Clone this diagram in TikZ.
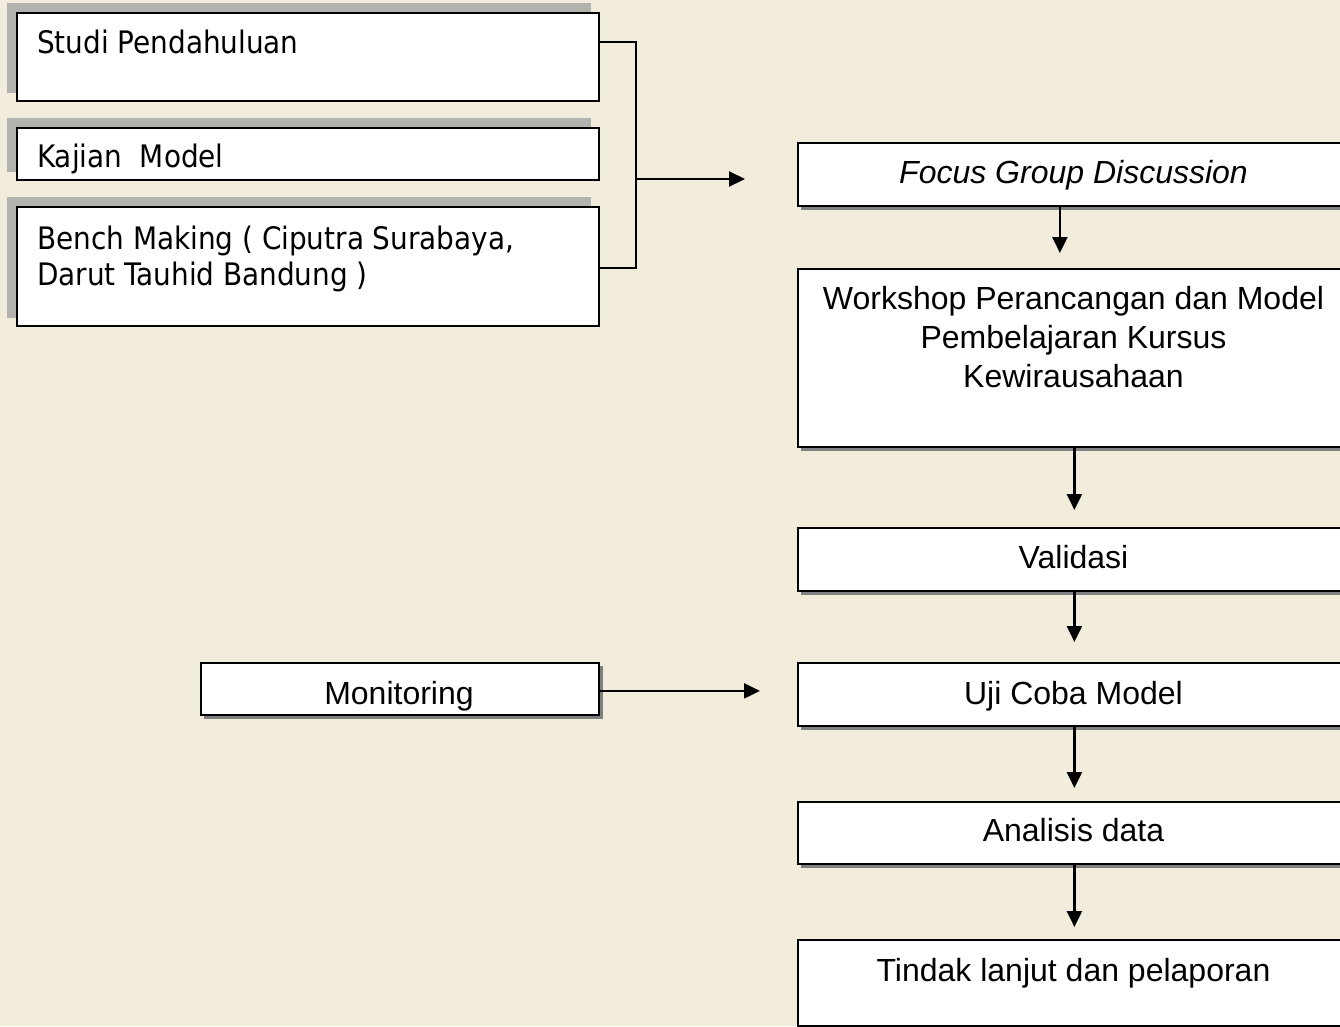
\documentclass[tikz,border=0pt]{standalone}
\usepackage{fontspec}
\setmainfont{Liberation Sans}
\newfontfamily\tahoma{DejaVu Sans Condensed}
\usetikzlibrary{arrows.meta}
\definecolor{bg}{RGB}{241,236,219}
\definecolor{shadL}{RGB}{178,178,175}
\definecolor{shadR}{RGB}{128,128,128}
\begin{document}
\begin{tikzpicture}[x=1pt,y=-1pt,
  box/.style={draw=black, line width=1.8pt, fill=white, inner sep=0pt, anchor=north west},
  conn/.style={line width=2.2pt, draw=black},
  arr/.style={conn, -{Triangle[length=16pt,width=15pt]}},
  rtxt/.style={anchor=base, inner sep=0pt, font=\fontsize{32}{39}\selectfont},
  ltxt/.style={anchor=base west, inner sep=0pt, font=\tahoma\fontsize{31}{36}\selectfont}
]
\useasboundingbox (0,0) rectangle (1340,1026);
\clip (0,0) rectangle (1340,1026);
\fill[bg] (0,0) rectangle (1340,1026);

% shadows, left group (up-left)
\fill[shadL] (7,3) rectangle (591,93);
\fill[shadL] (7,118) rectangle (591,172);
\fill[shadL] (7,197) rectangle (591,318);
% shadows, right group (down-right)
\fill[shadR] (801,146) rectangle (1354,210);
\fill[shadR] (801,272) rectangle (1354,451);
\fill[shadR] (801,531) rectangle (1354,595);
\fill[shadR] (204,666) rectangle (603,719);
\fill[shadR] (801,667) rectangle (1354,730);
\fill[shadR] (801,805) rectangle (1354,868);
\fill[shadR] (801,943) rectangle (1354,1030);

% boxes
\node[box, minimum width=582pt, minimum height=88pt]  (studi) at (16,12)  {};
\node[box, minimum width=582pt, minimum height=52pt]  (kajian) at (16,127) {};
\node[box, minimum width=582pt, minimum height=119pt] (bench) at (16,206) {};
\node[box, minimum width=553pt, minimum height=63pt]  (fgd) at (797,142) {};
\node[box, minimum width=553pt, minimum height=178pt] (ws)  at (797,268) {};
\node[box, minimum width=553pt, minimum height=63pt]  (val) at (797,527) {};
\node[box, minimum width=398pt, minimum height=52pt]  (mon) at (200,662) {};
\node[box, minimum width=553pt, minimum height=63pt]  (uji) at (797,662) {};
\node[box, minimum width=553pt, minimum height=62pt]  (ana) at (797,801) {};
\node[box, minimum width=553pt, minimum height=86pt]  (tin) at (797,939) {};

% texts
\node[ltxt] (studiT) at (37,53) {Studi Pendahuluan};
\node[ltxt] (kajianT) at (37,167) {Kajian~~Model};
\node[ltxt] (benchT1) at (37,249) {Bench Making ( Ciputra Surabaya,};
\node[ltxt] (benchT2) at (37,285) {Darut Tauhid Bandung )};
\node[rtxt] (fgdT) at (1073.5,183) {\itshape Focus Group Discussion};
\node[rtxt] (wsT1) at (1073.5,309) {Workshop Perancangan dan Model};
\node[rtxt] (wsT2) at (1073.5,348) {Pembelajaran Kursus};
\node[rtxt] (wsT3) at (1073.5,387) {Kewirausahaan};
\node[rtxt] (valT) at (1073.5,568) {Validasi};
\node[rtxt] (monT) at (399,704) {Monitoring};
\node[rtxt] (ujiT) at (1073.5,704) {Uji Coba Model};
\node[rtxt] (anaT) at (1073.5,841) {Analisis data};
\node[rtxt] (tinT) at (1073.5,981) {Tindak lanjut dan pelaporan};

% bracket from the left group
\coordinate (bk) at (636,179);
\draw[conn] ([yshift=-30pt]studi.north east) -| (bk) |- ([yshift=-62pt]bench.north east);
\draw[arr, shorten >=52pt] (bk) -- (bk -| fgd.west);

% vertical flow
\draw[arr, shorten >=15pt] ([xshift=-14.5pt]fgd.south) -- ([xshift=-14.5pt]ws.north);
\draw[arr, shorten >=17pt] (ws.south) -- (val.north);
\draw[arr, shorten >=20pt] (val.south) -- (uji.north);
\draw[arr, shorten >=13pt] (uji.south) -- (ana.north);
\draw[arr, shorten >=12pt] (ana.south) -- (tin.north);

% monitoring
\draw[arr, shorten >=37pt] ([yshift=-2pt]mon.east) -- ([yshift=-2pt]mon.east -| uji.west);
\end{tikzpicture}
\end{document}
